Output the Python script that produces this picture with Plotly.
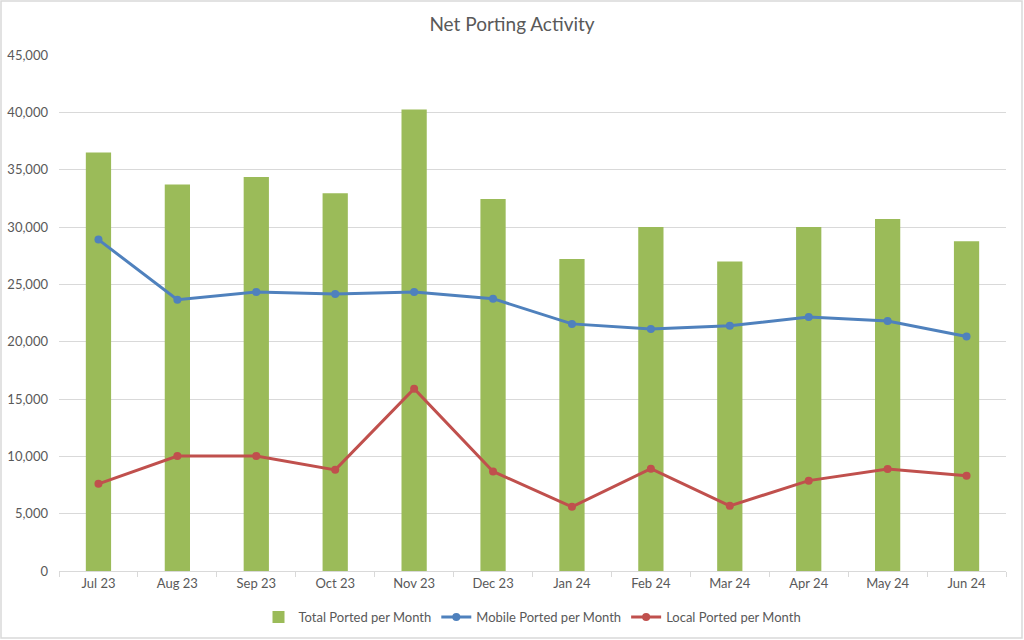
import plotly.graph_objects as go

months = ["Jul 23", "Aug 23", "Sep 23", "Oct 23", "Nov 23", "Dec 23",
          "Jan 24", "Feb 24", "Mar 24", "Apr 24", "May 24", "Jun 24"]
total_ported = [36500, 33700, 34350, 32950, 40250, 32450, 27200, 30000, 27000, 30000, 30700, 28750]
mobile_ported = [28900, 23650, 24330, 24150, 24330, 23750, 21550, 21100, 21380, 22150, 21800, 20450]
local_ported = [7600, 10030, 10030, 8820, 15900, 8680, 5600, 8920, 5680, 7880, 8900, 8300]
y_ticks = list(range(0, 45001, 5000))

font_family = "Lato, 'Open Sans', sans-serif"
grey = "#595959"

fig = go.Figure()
fig.add_trace(go.Bar(x=months, y=total_ported, name="Total Ported per Month",
                     marker=dict(color="#9BBB59", line=dict(width=0)), width=0.32))
fig.add_trace(go.Scatter(x=months, y=mobile_ported, name="Mobile Ported per Month",
                         mode="lines+markers", line=dict(color="#4F81BD", width=3),
                         marker=dict(size=8, color="#4F81BD")))
fig.add_trace(go.Scatter(x=months, y=local_ported, name="Local Ported per Month",
                         mode="lines+markers", line=dict(color="#C0504D", width=3),
                         marker=dict(size=8, color="#C0504D")))

pl, pr, pt, pb = 59, 18, 55, 69
pw, ph = 1024 - pl - pr, 640 - pt - pb
fig.add_shape(type="rect", xref="paper", yref="paper",
              x0=(1 - pl) / pw, x1=(1022 - pl) / pw, y0=(640 - pb - 638) / ph, y1=(640 - pb - 1) / ph,
              line=dict(color="#d9d9d9", width=1.5), layer="below")

fig.update_layout(
    width=1024, height=640,
    margin=dict(l=pl, r=pr, t=pt, b=pb, autoexpand=False),
    paper_bgcolor="white", plot_bgcolor="white",
    font=dict(family=font_family, size=13, color=grey),
    title=dict(text="Net Porting Activity", x=0.5, xanchor="center", y=0.962, yanchor="middle",
               font=dict(size=19, color=grey, family=font_family)),
    showlegend=True,
    legend=dict(orientation="h", x=0.5, xanchor="center", y=(640 - pb - 617) / ph, yanchor="middle",
                font=dict(size=13, color=grey), traceorder="normal"),
)
fig.update_xaxes(type="category", range=[-0.5, len(months) - 0.5], showline=True,
                 linecolor="#d9d9d9", linewidth=1,
                 ticks="outside", tickson="boundaries", ticklen=5, tickcolor="#d9d9d9",
                 showgrid=False, automargin=False, tickfont=dict(size=13, color=grey))
fig.update_yaxes(range=[0, 45000], tickvals=y_ticks, tickformat=",", showgrid=True,
                 gridcolor="#d9d9d9", gridwidth=1, zeroline=False, showline=False,
                 automargin=False, ticks="", ticklabelstandoff=10,
                 tickfont=dict(size=13, color=grey))

fig.write_html("out.html")
